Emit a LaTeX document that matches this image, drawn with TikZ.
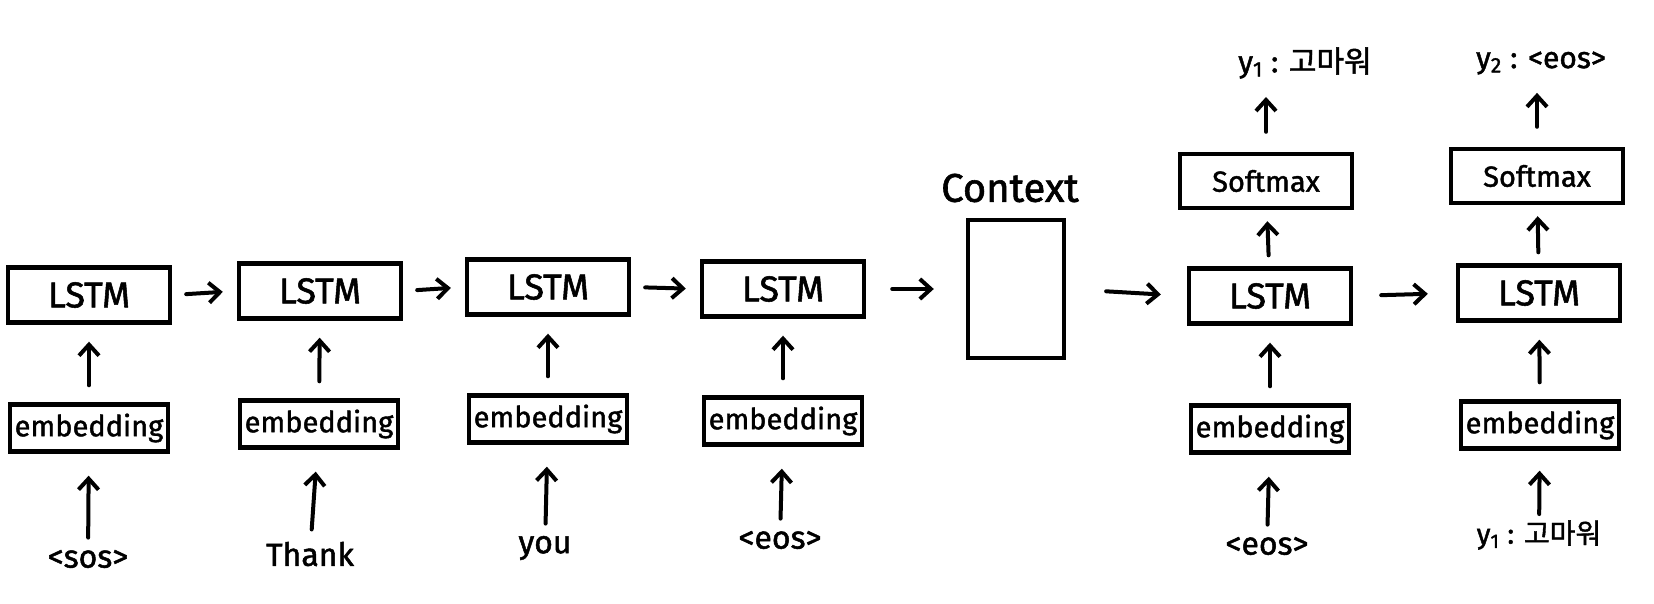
\documentclass[tikz,border=0pt]{standalone}
\usepackage{fontspec}
\setmainfont{Fira Sans}[FakeBold=1.5]
\newfontfamily\kr{Noto Sans CJK KR}[FakeBold=1.5]
\usetikzlibrary{arrows.meta}
\begin{document}
\begin{tikzpicture}[x=0.5pt,y=-0.5pt,
 box/.style={draw, line width=2.2pt, inner sep=0pt, font=\fontsize{14.5}{15}\selectfont},
 lstm/.style={box, minimum width=81pt, minimum height=27.5pt, font=\fontsize{18}{18}\selectfont},
 emb/.style={box, minimum width=79pt, minimum height=23.5pt},
 soft/.style={box, minimum width=86pt, minimum height=27pt},
 ctx/.style={box, minimum width=48pt, minimum height=69pt},
 lbl/.style={inner sep=1pt, font=\fontsize{16}{16}\selectfont},
 arr/.style={-{Straight Barb[length=5.5pt,width=10pt]}, line width=2pt, line cap=round},
 up/.style={arr, shorten <=8.5pt, shorten >=8.5pt},
 inp/.style={arr, shorten <=5pt, shorten >=11pt},
 hor/.style={arr, shorten <=7pt, shorten >=7pt},
]
\useasboundingbox (0,0) rectangle (1654,604);

% encoder
\node[lstm] (l1) at (89,295) {LSTM};
\node[lstm] (l2) at (320,291) {LSTM};
\node[lstm] (l3) at (548,287) {LSTM};
\node[lstm] (l4) at (783,289) {LSTM};
\node[emb] (e1) at (89,428) {embedding};
\node[emb] (e2) at (319,424) {embedding};
\node[emb] (e3) at (548,419) {embedding};
\node[emb] (e4) at (783,421) {embedding};
\node[lbl] (i1) at (88,559) {<sos>};
\node[lbl] (i2) at (310,554) {Thank};
\node[lbl] (i3) at (545,548) {you};
\node[lbl] (i4) at (780,540) {<eos>};

% context
\node[ctx] (c) at (1016,289) {};
\node[lbl, font=\fontsize{20}{20}\selectfont] (ct) at (1010,188) {Context};

% decoder
\node[lstm] (l5) at (1270,296) {LSTM};
\node[lstm] (l6) at (1539,293) {LSTM};
\node[emb] (e5) at (1270,429) {embedding};
\node[emb] (e6) at (1540,425) {embedding};
\node[soft] (s5) at (1266,181) {Softmax};
\node[soft] (s6) at (1537,176) {Softmax};
\node[lbl] (i5) at (1267,546) {<eos>};
\node[lbl, font=\fontsize{14}{14}\selectfont] (i6) at (1539,535) {y\textsubscript{1} : {\kr 고마워}};
\node[lbl, font=\fontsize{15}{15}\selectfont] (o5) at (1305,63) {y\textsubscript{1} : {\kr 고마워}};
\node[lbl, font=\fontsize{15}{15}\selectfont] (o6) at (1541,63) {y\textsubscript{2} : <eos>};

% vertical arrows
\foreach \n in {1,...,5}{
  \draw[inp] (i\n) -- (e\n);
}
\foreach \n in {1,...,6}{
  \draw[up] (e\n) -- (l\n);
}
\draw[inp, shorten <=2pt, shorten >=10pt] (i6) -- (e6);
\draw[arr, shorten <=5.5pt, shorten >=5.5pt] (l5) -- (s5);
\draw[arr, shorten <=5.5pt, shorten >=5.5pt] (l6) -- (s6);
\draw[arr, shorten <=10pt, shorten >=8pt] (s5.north) -- (s5.north |- o5.south);
\draw[arr, shorten <=10pt, shorten >=8pt] (s6.north) -- (s6.north |- o6.south);

% horizontal arrows
\draw[hor] (l1.east) -- (l2.west);
\draw[hor] (l2.east) -- (l3.west);
\draw[hor] (l3.east) -- (l4.west);
\draw[arr, shorten <=13pt, shorten >=16pt] (l4.east) -- (c.west);
\draw[arr, shorten <=20pt, shorten >=13pt] (c.east) -- (l5.west);
\draw[arr, shorten <=14pt, shorten >=14pt] (l5.east) -- (l6.west);
\end{tikzpicture}
\end{document}
